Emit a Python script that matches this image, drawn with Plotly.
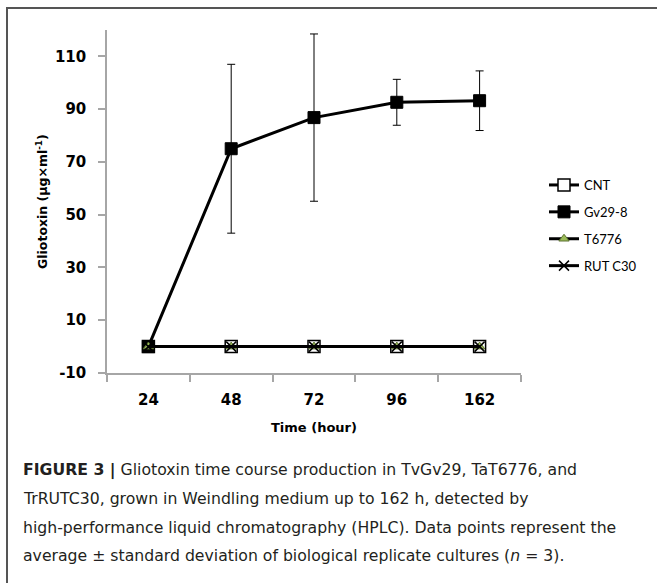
import plotly.graph_objects as go

categories = ["24", "48", "72", "96", "162"]
cnt = [0, 0, 0, 0, 0]
gv29 = [0, 75.0, 86.8, 92.6, 93.2]
gv29_sd = [0, 32.0, 31.7, 8.7, 11.3]
t6776 = [0, 0, 0, 0, 0]
rutc30 = [0, 0, 0, 0, 0]
y_tick_vals = [-10, 10, 30, 50, 70, 90, 110]
y_tick_text = ["-10", "10", "30", "50", "70", "90", "110"]

W, H = 657, 583
L, R, T, B = 107, 521, 30, 373
PW, PH = R - L, B - T

def px(x):
    return (x - L) / PW

def py(y):
    return (B - y) / PH

BOLD = "DejaVu Sans"
fig = go.Figure()

fig.add_trace(go.Scatter(
    x=categories, y=cnt, name="CNT", mode="lines+markers", legendgroup="a",
    line=dict(color="black", width=3),
    marker=dict(symbol="square", size=12, color="white", line=dict(color="black", width=1.5))))
fig.add_trace(go.Scatter(
    x=categories, y=gv29, name="Gv29-8", mode="lines+markers", legendgroup="b",
    line=dict(color="black", width=3),
    marker=dict(symbol="square", size=12, color="black", line=dict(color="black", width=1)),
    error_y=dict(type="data", array=gv29_sd, color="black", thickness=1, width=4)))
fig.add_trace(go.Scatter(
    x=categories, y=t6776, name="T6776", mode="lines+markers", legendgroup="c",
    line=dict(color="black", width=3),
    marker=dict(symbol="triangle-up", size=9, color="#9bbb59", line=dict(color="#5a7030", width=1))))
fig.add_trace(go.Scatter(
    x=categories, y=rutc30, name="RUT C30", mode="lines+markers", legendgroup="d",
    line=dict(color="black", width=3),
    marker=dict(symbol="x-thin", size=10, color="black", line=dict(color="black", width=1.5))))

fig.update_xaxes(
    type="category", range=[-0.5, 4.5], showline=True, linecolor="#a6a6a6", linewidth=1.5,
    ticks="outside", tickson="boundaries", ticklen=7, tickcolor="#a6a6a6", tickwidth=1.5,
    showgrid=False, zeroline=False, ticklabelstandoff=12,
    tickfont=dict(family=BOLD, size=15, color="black", weight="bold"))
fig.update_yaxes(
    range=[-10, 120], tickmode="array", tickvals=y_tick_vals, ticktext=y_tick_text,
    showline=True, linecolor="#a6a6a6", linewidth=1.5,
    ticks="outside", ticklen=7, tickcolor="#a6a6a6", tickwidth=1.5,
    showgrid=False, zeroline=False, ticklabelstandoff=9,
    tickfont=dict(family=BOLD, size=15, color="black", weight="bold"))

annotations = [
    dict(text="Gliotoxin (µg×ml<sup>-1</sup>)", x=px(42), y=py(202), textangle=-90,
         font=dict(family=BOLD, size=12.5, color="black", weight="bold")),
    dict(text="Time (hour)", x=px(314), y=py(427),
         font=dict(family=BOLD, size=13, color="black", weight="bold")),
]
caption = [
    "<b>FIGURE 3 |</b> Gliotoxin time course production in TvGv29, TaT6776, and",
    "TrRUTC30, grown in Weindling medium up to 162 h, detected by",
    "high-performance liquid chromatography (HPLC). Data points represent the",
    "average ± standard deviation of biological replicate cultures (<i>n</i> = 3).",
]
for i, line in enumerate(caption):
    annotations.append(dict(text=line, x=px(21), y=py(470 + i * 28.5), xanchor="left",
                            font=dict(family="DejaVu Sans", size=15.7, color="#231f20")))
for a in annotations:
    a.update(xref="paper", yref="paper", showarrow=False)
    a.setdefault("xanchor", "center")
    a.setdefault("yanchor", "middle")

fig.update_layout(
    width=W, height=H, margin=dict(l=L, r=W - R, t=T, b=H - B),
    paper_bgcolor="white", plot_bgcolor="white",
    showlegend=True,
    legend=dict(x=px(544), y=py(170), xanchor="left", yanchor="top",
                traceorder="grouped", tracegroupgap=7,
                font=dict(family="Lato", size=13, color="black"), bgcolor="rgba(0,0,0,0)"),
    annotations=annotations,
    shapes=[dict(type="path", xref="paper", yref="paper",
                 path=f"M {px(7)} {py(600)} L {px(7)} {py(8)} L {px(700)} {py(8)}",
                 line=dict(color="#555555", width=2))],
)

fig.write_html("out.html")
